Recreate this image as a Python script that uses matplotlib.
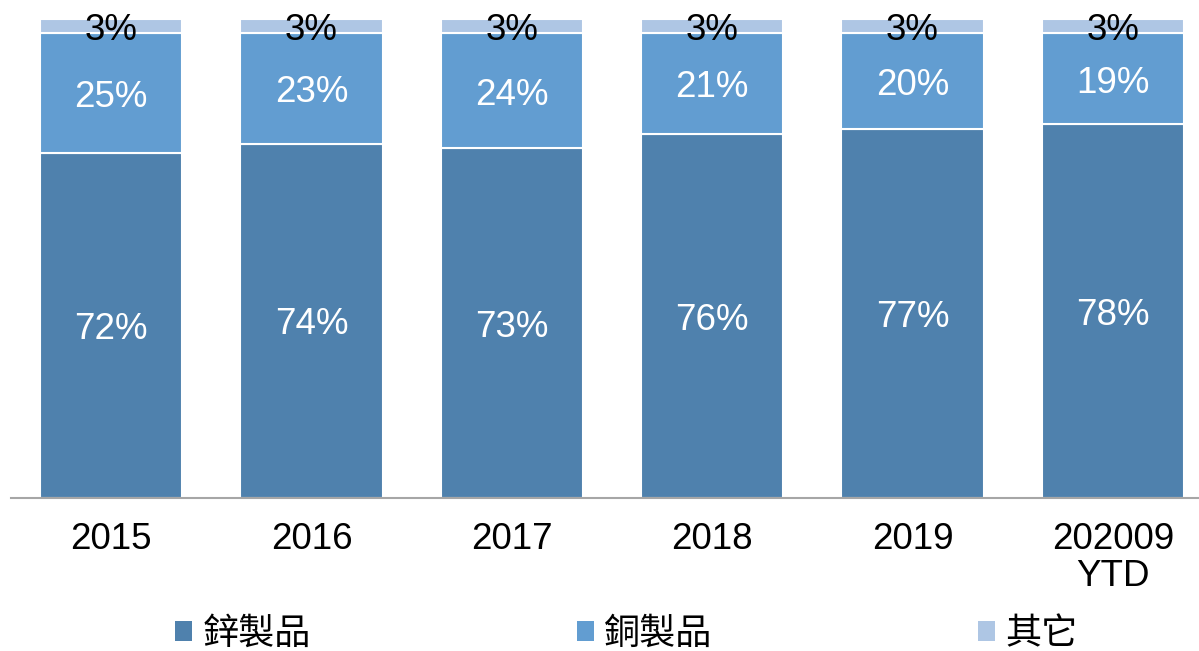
import numpy as np
import matplotlib.pyplot as plt
from matplotlib.patches import Patch

years = ['2015', '2016', '2017', '2018', '2019', '202009\nYTD']
zinc = [72, 74, 73, 76, 77, 78]
copper = [25, 23, 24, 21, 20, 19]
other = [3, 3, 3, 3, 3, 3]
names = ['鋅製品', '銅製品', '其它']
colors = ['#4F81AD', '#629DD1', '#AEC6E4']
label_colors = ['white', 'white', 'black']

plt.rcParams['font.family'] = ['Liberation Sans', 'DejaVu Sans']

fig = plt.figure(figsize=(11.99, 6.51), dpi=100)
ax = fig.add_axes([11 / 1199, (651 - 498) / 651, 1188 / 1199, 479 / 651])

x = np.arange(len(years))
bottom = np.zeros(len(years))
for vals, c, lc in zip([zinc, copper, other], colors, label_colors):
    vals = np.array(vals)
    ax.bar(x, vals, 0.71, bottom=bottom, color=c, edgecolor='white', linewidth=1.5)
    for xi, b, v in zip(x, bottom, vals):
        ax.annotate(f'{v}%', (xi, b + v / 2), xytext=(0, -3), textcoords='offset points',
                    ha='center', va='center', fontsize=26.5, color=lc)
    bottom += vals

ax.set_xlim(-0.5, 5.43)
ax.set_ylim(0, 100)
ax.set_xticks(x)
ax.set_xticklabels(years, fontsize=26.5, linespacing=1.1)
ax.tick_params(axis='x', length=0, pad=17)
ax.set_yticks([])
for s in ['left', 'right', 'top']:
    ax.spines[s].set_visible(False)
ax.spines['bottom'].set_color('#A6A6A6')
ax.spines['bottom'].set_linewidth(1.5)

handles = [Patch(facecolor=c) for c in colors]
fig.legend(handles, names, loc='center', bbox_to_anchor=(0.5225, (651 - 634) / 651),
           ncol=3, frameon=False, handlelength=0.47, handleheight=0.47, handletextpad=0.28,
           columnspacing=7.37, prop={'family': ['Noto Sans CJK TC'], 'size': 26})

fig.savefig('out.png', dpi=100)
